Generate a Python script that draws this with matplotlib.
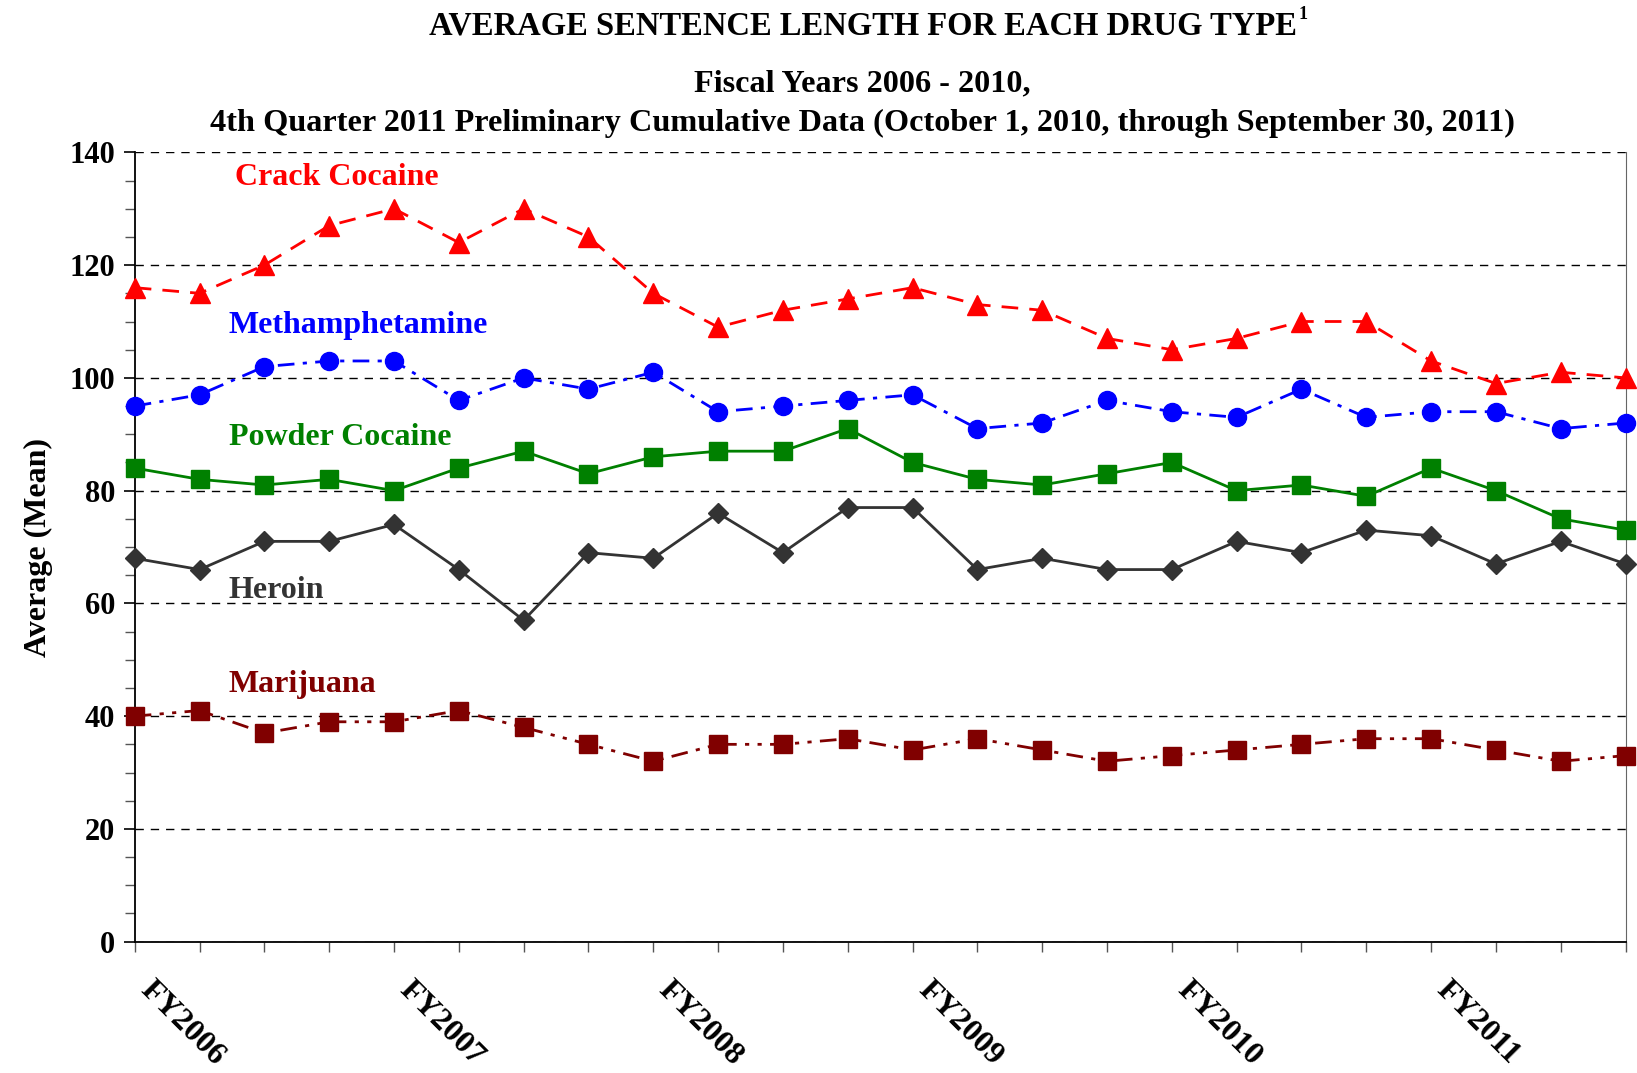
import numpy as np
import matplotlib
matplotlib.use("Agg")
import matplotlib.pyplot as plt
import matplotlib.transforms as mtransforms
from matplotlib.ticker import MultipleLocator, FixedLocator

plt.rcParams["font.family"] = ["Liberation Serif", "DejaVu Serif"]
plt.rcParams["font.weight"] = "bold"

# quarterly data, FY2006 Q1 .. FY2011 Q4
quarters = np.arange(24)
year_labels = ["FY2006", "FY2007", "FY2008", "FY2009", "FY2010", "FY2011"]

crack = [116, 115, 120, 127, 130, 124, 130, 125, 115, 109, 112, 114,
         116, 113, 112, 107, 105, 107, 110, 110, 103, 99, 101, 100]
meth = [95, 97, 102, 103, 103, 96, 100, 98, 101, 94, 95, 96,
        97, 91, 92, 96, 94, 93, 98, 93, 94, 94, 91, 92]
powder = [84, 82, 81, 82, 80, 84, 87, 83, 86, 87, 87, 91,
          85, 82, 81, 83, 85, 80, 81, 79, 84, 80, 75, 73]
heroin = [68, 66, 71, 71, 74, 66, 57, 69, 68, 76, 69, 77,
          77, 66, 68, 66, 66, 71, 69, 73, 72, 67, 71, 67]
marijuana = [40, 41, 37, 39, 39, 41, 38, 35, 32, 35, 35, 36,
             34, 36, 34, 32, 33, 34, 35, 36, 36, 34, 32, 33]

fig = plt.figure(figsize=(16.37, 10.73), dpi=100)
ax = fig.add_axes([0.0823, 0.1224, 0.9107, 0.7356])

series = [
    ("Crack Cocaine", crack, "#FF0000", "^", (6, 4), 14, 135.6, 1.55),
    ("Methamphetamine", meth, "#0000FF", "o", (6, 3, 1.5, 3), 13, 109.3, 1.45),
    ("Powder Cocaine", powder, "#008000", "s", None, 13, 89.4, 1.45),
    ("Heroin", heroin, "#333333", "D", None, 10, 62.2, 1.45),
    ("Marijuana", marijuana, "#800000", "s", (6, 3, 1.5, 3, 1.5, 3), 13, 45.6, 1.45),
]

for name, vals, col, mk, dash, ms, ly, lx in series:
    line, = ax.plot(quarters, vals, color=col, marker=mk, markersize=ms,
                    lw=2, clip_on=False, zorder=3)
    if dash is not None:
        line.set_dashes(dash)
    ax.text(lx, ly, name, color=col, fontsize=23, fontweight="bold",
            ha="left", va="center")

ax.set_xlim(0, 23)
ax.set_ylim(0, 140)

ax.yaxis.set_major_locator(MultipleLocator(20))
ax.yaxis.set_minor_locator(MultipleLocator(5))
ax.tick_params(axis="y", which="major", length=8, width=1.2, labelsize=22, pad=6)
ax.tick_params(axis="y", which="minor", length=7, width=1, color="#555555")
ax.set_ylabel("Average (Mean)", fontsize=23, fontweight="bold", labelpad=12)

ax.xaxis.set_major_locator(FixedLocator(quarters[::4]))
ax.xaxis.set_minor_locator(FixedLocator(quarters))
ax.set_xticklabels(year_labels)
ax.tick_params(axis="x", which="both", length=7.5, width=1, color="#555555",
               direction="out")
ax.tick_params(axis="x", which="major", labelsize=23, pad=24)
shift = mtransforms.ScaledTranslation(7 / 72, 0, fig.dpi_scale_trans)
for lab in ax.get_xticklabels():
    lab.set_rotation(-45)
    lab.set_rotation_mode("anchor")
    lab.set_ha("left")
    lab.set_va("center")
    lab.set_fontweight("bold")
    lab.set_transform(lab.get_transform() + shift)
for lab in ax.get_yticklabels():
    lab.set_fontweight("bold")

ax.grid(axis="y", which="major", color="black", lw=1, linestyle=(0, (6, 5)))
ax.set_axisbelow(True)
ax.spines["top"].set_visible(False)
ax.spines["right"].set_color("#666666")
ax.spines["left"].set_linewidth(1.3)
ax.spines["bottom"].set_linewidth(1.3)

t = fig.text(0.527, 0.976, "AVERAGE SENTENCE LENGTH FOR EACH DRUG TYPE",
             ha="center", va="center", fontsize=23.5, fontweight="bold")
ax.annotate("1", xy=(1, 1), xycoords=t, xytext=(1, 3),
            textcoords="offset points", ha="left", va="top",
            fontsize=13, fontweight="bold")
fig.text(0.527, 0.922, "Fiscal Years 2006 - 2010,",
         ha="center", va="center", fontsize=23.2, fontweight="bold")
fig.text(0.527, 0.885,
         "4th Quarter 2011 Preliminary Cumulative Data (October 1, 2010, through September 30, 2011)",
         ha="center", va="center", fontsize=23.2, fontweight="bold")

fig.savefig("out.png", dpi=100)
